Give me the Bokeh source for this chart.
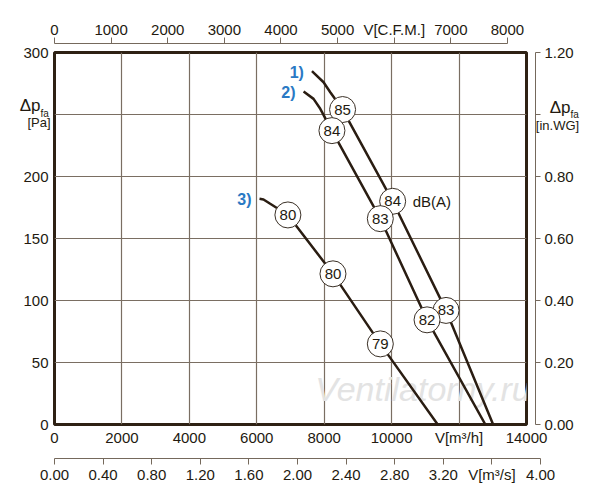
from bokeh.plotting import figure
from bokeh.models import (Range1d, LinearAxis, FixedTicker, Label, ColumnDataSource,
                          PrintfTickFormatter, GridBox)
from bokeh.embed import file_html
from bokeh.resources import INLINE
from bokeh.core.properties import value

# ---------------- data ----------------
flow_1 = [7636, 7981, 8180, 8545, 9762, 10030, 11614, 13010]
pres_1 = [285, 276, 268, 254, 193.5, 180, 92, 0]

flow_2 = [7388, 7684, 7883, 8229, 9664, 11050, 12780]
pres_2 = [268.5, 262.6, 254.6, 237, 166, 84.4, 0]

flow_3 = [6081, 6199, 6398, 6923, 8260, 9664, 11366]
pres_3 = [182, 181.5, 178, 169, 121.5, 65, 0]

curve_names = ["1)", "2)", "3)"]

marker_flow = [8545, 10030, 11614, 8229, 9664, 11050, 6923, 8260, 9664]
marker_pres = [254, 180, 92, 237, 166, 84.4, 169, 121.5, 65]
marker_db = ["85", "84", "83", "84", "83", "82", "80", "80", "79"]

m3h_ticks = [0, 2000, 4000, 6000, 8000, 10000, 12000, 14000]
cfm_ticks = [0, 1000, 2000, 3000, 4000, 5000, 6000, 7000, 8000]
pa_ticks = [0, 50, 100, 150, 200, 250, 300]
inwg_ticks = [0.0, 0.2, 0.4, 0.6, 0.8, 1.0, 1.2]
ms_ticks = [0.0, 0.4, 0.8, 1.2, 1.6, 2.0, 2.4, 2.8, 3.2, 3.6, 4.0]

# ---------------- style / geometry ----------------
FONT = "Liberation Sans"
TXT = "#231a10"
AXC = "#75695c"
GRID = "#7a6e62"
CURVE = "#2a1d12"
BLUE = "#2a79c4"

W, H = 596, 452
BL, BR, BT, BB = 54, 70, 52, 28
FW, FH = W - BL - BR, H - BT - BB

p = figure(width=W, height=H, x_range=Range1d(0, 14000), y_range=Range1d(0, 300),
           output_backend="svg", toolbar_location=None,
           min_border_left=BL, min_border_right=BR, min_border_top=BT, min_border_bottom=BB)
p.frame_align = False
p.extra_x_ranges = {"cfm": Range1d(0, 8336)}
p.extra_y_ranges = {"inwg": Range1d(0, 1.2)}
p.outline_line_color = "#2e2114"
p.outline_line_width = 3
p.background_fill_color = "white"


def base_style(ax, size="15px"):
    ax.major_label_text_font = FONT
    ax.major_label_text_font_size = size
    ax.major_label_text_color = TXT
    ax.minor_tick_line_color = None
    ax.major_tick_in = 0


def spacer(ax):
    ax.axis_line_color = None
    ax.major_tick_line_color = None
    ax.minor_tick_line_color = None
    ax.major_tick_in = 0
    ax.major_label_standoff = 0
    ax.major_label_text_font_size = "1px"
    ax.major_label_text_color = None


# bottom m3/h
xb = p.xaxis[0]
xb.ticker = FixedTicker(ticks=m3h_ticks)
xb.major_label_overrides = {12000: "V[m³/h]"}
base_style(xb)
xb.axis_line_color = None
xb.major_tick_line_color = None
xb.major_tick_out = 0
xb.major_label_standoff = 4

# left Pa
yl = p.yaxis[0]
yl.ticker = FixedTicker(ticks=pa_ticks)
yl.major_label_overrides = {250: ""}
base_style(yl)
yl.axis_line_color = None
yl.major_tick_line_color = None
yl.major_tick_out = 0
yl.major_label_standoff = 6

p.xgrid.grid_line_color = GRID
p.ygrid.grid_line_color = GRID
p.xgrid.grid_line_width = 1.2
p.ygrid.grid_line_width = 1.2

# right spacer + in.WG axis
sp_r = LinearAxis(y_range_name="inwg", ticker=FixedTicker(ticks=[0.0]),
                  major_label_overrides={0.0: ""}, major_tick_out=9)
spacer(sp_r)
p.add_layout(sp_r, "right")
yr = LinearAxis(y_range_name="inwg", ticker=FixedTicker(ticks=inwg_ticks),
                formatter=PrintfTickFormatter(format="%.2f"))
yr.major_label_overrides = {1.0: ""}
base_style(yr)
yr.axis_line_color = AXC
yr.major_tick_line_color = AXC
yr.major_tick_out = 5
yr.major_label_standoff = 4
p.add_layout(yr, "right")

# top spacer + CFM axis
sp_t = LinearAxis(x_range_name="cfm", ticker=FixedTicker(ticks=[0]),
                  major_label_overrides={0: ""}, major_tick_out=9)
spacer(sp_t)
p.add_layout(sp_t, "above")
xt = LinearAxis(x_range_name="cfm", ticker=FixedTicker(ticks=cfm_ticks), bounds=(0, 8000))
xt.major_label_overrides = {6000: "V[C.F.M.]"}
base_style(xt)
xt.axis_line_color = AXC
xt.major_tick_line_color = AXC
xt.major_tick_out = 6
xt.major_label_standoff = 0
p.add_layout(xt, "above")

# watermark
p.add_layout(Label(x=7734, y=29, text="Ventilatorny.ru", text_font=FONT, text_font_style="italic",
                   text_font_size="34px", text_color="#e3e3e3", text_baseline="middle",
                   level="underlay"))

# curves
flows = [flow_1, flow_2, flow_3]
press = [pres_1, pres_2, pres_3]
for fx, py in zip(flows, press):
    p.line(fx, py, line_color=CURVE, line_width=2.5)

# curve names
p.text(x=[f[0] for f in flows], y=[q[0] for q in press], text=curve_names,
       text_font=value(FONT), text_font_style="bold", text_font_size="16px",
       text_color=BLUE, text_align="right", text_baseline="middle", x_offset=-8, y_offset=1)

# dB markers
msrc = ColumnDataSource(dict(x=marker_flow, y=marker_pres, t=marker_db))
p.scatter("x", "y", source=msrc, marker="circle", size=26, fill_color="white",
          line_color="#3a3026", line_width=1)
p.text("x", "y", text="t", source=msrc, text_font=value(FONT), text_font_size="15px",
       text_color=TXT, text_align="center", text_baseline="middle")

p.add_layout(Label(x=marker_flow[1], y=marker_pres[1], x_offset=20, text="dB(A)",
                   text_font=FONT, text_font_size="15px", text_color=TXT,
                   text_baseline="middle"))

# ---------------- transparent overlay for the Δp_fa axis titles ----------------
# same data scales as the chart, but the frame covers the whole canvas
kx = (m3h_ticks[-1] - m3h_ticks[0]) / FW
ky = (pa_ticks[-1] - pa_ticks[0]) / FH
ov = figure(width=W, height=H,
            x_range=Range1d(-BL * kx, (W - BL) * kx), y_range=Range1d(-BB * ky, (H - BB) * ky),
            output_backend="svg", toolbar_location=None, x_axis_location=None, y_axis_location=None,
            min_border_left=0, min_border_right=0, min_border_top=0, min_border_bottom=0)
ov.frame_align = False
ov.background_fill_color = None
ov.border_fill_color = None
ov.outline_line_color = None
ov.xgrid.visible = False
ov.ygrid.visible = False

x0, x1 = m3h_ticks[0], m3h_ticks[-1]
ty = pa_ticks[5]
tk = dict(text_font=value(FONT), text_color=TXT, text_baseline="middle")
ov.text(x=[x0], y=[ty], text=["Δp"], x_offset=-14, y_offset=-9, text_align="right",
        text_font_size="17px", **tk)
ov.text(x=[x0], y=[ty], text=["fa"], x_offset=-14, y_offset=-1, text_align="left",
        text_font_size="10px", **tk)
ov.text(x=[x0], y=[ty], text=["[Pa]"], x_offset=-4, y_offset=8, text_align="right",
        text_font_size="13px", **tk)
ov.text(x=[x1], y=[ty], text=["Δp"], x_offset=44, y_offset=-7, text_align="right",
        text_font_size="17px", **tk)
ov.text(x=[x1], y=[ty], text=["fa"], x_offset=44, y_offset=0, text_align="left",
        text_font_size="10px", **tk)
ov.text(x=[x1], y=[ty], text=["[in.WG]"], x_offset=31, y_offset=11, text_align="center",
        text_font_size="13px", **tk)

# ---------------- m3/s axis figure ----------------
s = figure(width=W, height=44, x_range=Range1d(0, 4), y_range=Range1d(0, 1),
           output_backend="svg", toolbar_location=None, y_axis_location=None,
           min_border_left=BL, min_border_right=56, min_border_top=0, min_border_bottom=38)
s.frame_align = False
s.outline_line_color = None
s.xgrid.visible = False
s.ygrid.visible = False
xs = s.xaxis[0]
xs.ticker = FixedTicker(ticks=ms_ticks)
xs.formatter = PrintfTickFormatter(format="%.2f")
xs.major_label_overrides = {3.6: "V[m³/s]"}
base_style(xs)
xs.axis_line_color = AXC
xs.major_tick_line_color = AXC
xs.major_tick_out = 6
xs.major_label_standoff = 1

layout = GridBox(children=[(p, 0, 0), (ov, 0, 0), (s, 1, 0)])
open("out.html", "w").write(file_html(layout, INLINE))
